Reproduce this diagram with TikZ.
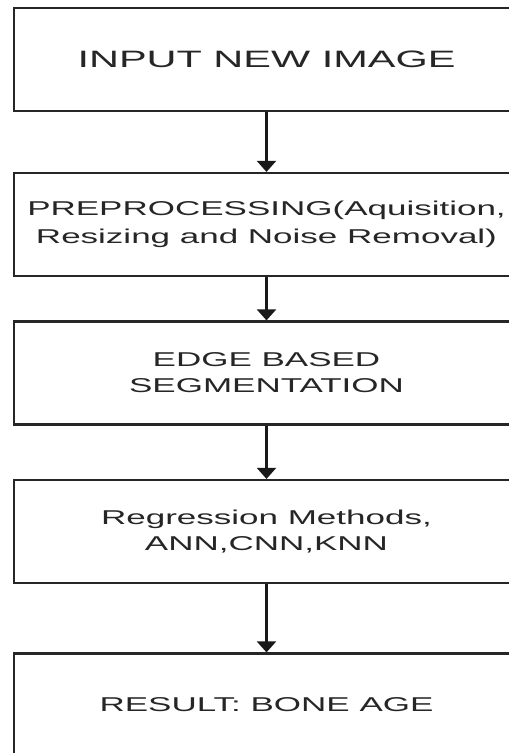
\documentclass[tikz,border=0pt]{standalone}
\usepackage{fontspec}
\setmainfont[FakeStretch=1.75]{Liberation Sans}
\usetikzlibrary{arrows.meta}
\begin{document}
\begin{tikzpicture}[x=1pt, y=-1pt,
    box/.style={draw=black!85, line width=2.2pt, rectangle, minimum width=505pt,
                minimum height=103pt, align=center, text=black!85,
                font=\fontsize{20}{26}\selectfont},
    flow/.style={draw=black!90, line width=2.2pt, -{Triangle[width=19pt,length=11pt]}}]
        \useasboundingbox (0, 0) rectangle (509, 753);
        \clip (0, 0) rectangle (509, 753);

        \node (input)  at (266.5,  59.5) [box, font=\fontsize{23.7}{28}\selectfont] {INPUT NEW IMAGE};
        \node (prep)   at (266.5, 224.5) [box, font=\fontsize{20}{28}\selectfont]
              {PREPROCESSING(Aquisition,\\Resizing and Noise Removal)};
        \node (seg)    at (266.5, 373)   [box] {EDGE BASED\\SEGMENTATION};
        \node (regr)   at (266.5, 531.5) [box] {Regression Methods,\\ANN,CNN,KNN};
        \node (result) at (266.5, 705)   [box] {RESULT: BONE AGE};

        \draw (input) -- (prep)   [flow];
        \draw (prep)  -- (seg)    [flow];
        \draw (seg)   -- (regr)   [flow];
        \draw (regr)  -- (result) [flow];
      \end{tikzpicture}
\end{document}
